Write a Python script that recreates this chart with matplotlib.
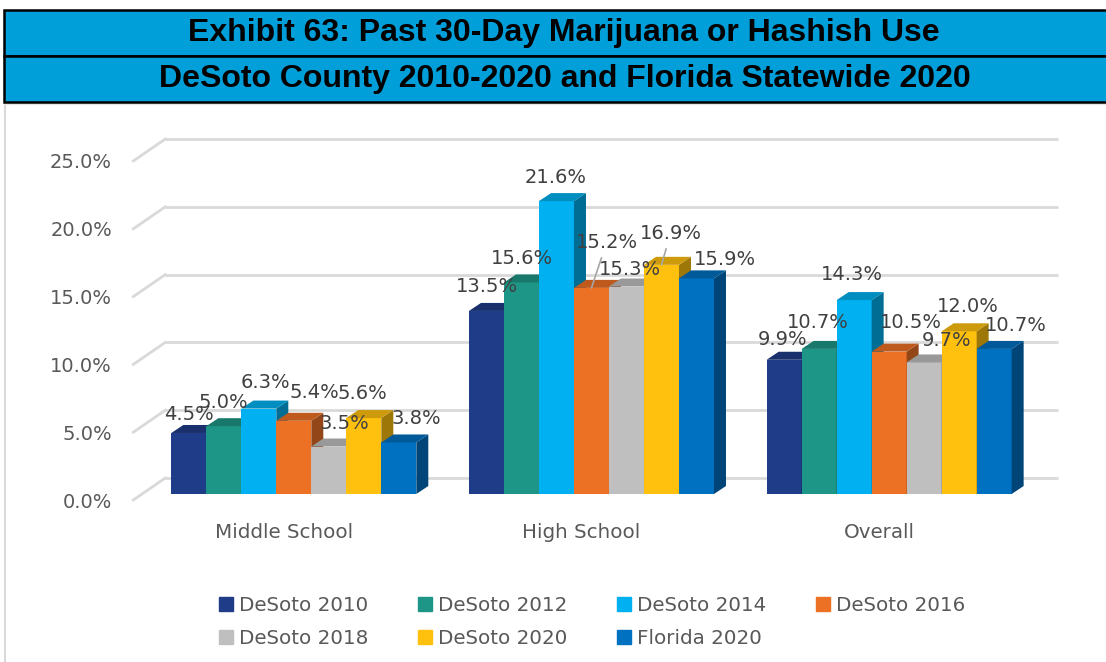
import numpy as np
import matplotlib
matplotlib.use("Agg")
import matplotlib.pyplot as plt
from matplotlib.patches import Polygon, Rectangle
from matplotlib.lines import Line2D
from matplotlib.colors import to_rgb

# data
categories = ["Middle School", "High School", "Overall"]
series = ["DeSoto 2010", "DeSoto 2012", "DeSoto 2014", "DeSoto 2016",
          "DeSoto 2018", "DeSoto 2020", "Florida 2020"]
values = {
    "DeSoto 2010": [4.5, 13.5, 9.9],
    "DeSoto 2012": [5.0, 15.6, 10.7],
    "DeSoto 2014": [6.3, 21.6, 14.3],
    "DeSoto 2016": [5.4, 15.2, 10.5],
    "DeSoto 2018": [3.5, 15.3, 9.7],
    "DeSoto 2020": [5.6, 16.9, 12.0],
    "Florida 2020": [3.8, 15.9, 10.7],
}
yticks = [0, 5, 10, 15, 20, 25]

colors = ["#1F3C88", "#1E9687", "#00B0F0", "#ED7125",
          "#BFBFBF", "#FFC00E", "#0070C0"]

# label nudges (pixels) to mimic Excel's placement, per series / category
label_nudge = [
    [(0, -6), (0, 0), (-2, -4)],
    [(0, 0), (0, 0), (-1, 2)],
    [(7, 2), (-1, 0), (-2, 2)],
    [(21, 4), (15, 21), (22, 5)],
    [(16, -1), (3, -7), (22, -2)],
    [(-1, 1), (9, 7), (9, 1)],
    [(18, 0), (28, -5), (22, -1)],
]
leaders = [(3, 1), (5, 1)]

W, H = 1106, 662
fig = plt.figure(figsize=(W / 100, H / 100), dpi=100)
fig.patch.set_facecolor("white")

# axes placed so that the bar-front plane maps onto the pixel layout
ax_l, ax_w = 142, 893
ax_b, ax_h = 168, 339
ax = fig.add_axes([ax_l / W, ax_b / H, ax_w / W, ax_h / H])
ax.set_xlim(-0.51, 2.49)
ax.set_ylim(0, 25)
ax.axis("off")

sx = ax_w / 3.0
sy = ax_h / 25.0
ux, uy = 12 / sx, 8 / sy          # bar depth
wx, wy = 23.3 / sx, 16 / sy       # back wall
fx, fy = -8.7 / sx, -6 / sy       # front plane

grid_c = "#D9D9D9"
x0, x1 = ax.get_xlim()
for v in yticks:
    ax.plot([x0 + wx, x1 + wx], [v + wy, v + wy], color=grid_c, lw=2,
            zorder=1, clip_on=False, solid_capstyle="butt")
    ax.plot([x0 + fx, x0 + wx], [v + fy, v + wy], color=grid_c, lw=2,
            zorder=1, clip_on=False)
    ax.annotate(f"{v:.1f}%", xy=(x0, v), xytext=(-30, -8),
                textcoords="offset pixels", ha="right", va="center",
                fontsize=14, color="#595959", annotation_clip=False)

n = len(series)
bw = 35 / sx
xc = np.arange(len(categories))


def shade(c, f):
    r, g, b = to_rgb(c)
    return (r * f, g * f, b * f)


for i, s in enumerate(series):
    vals = values[s]
    pos = xc + (i - (n - 1) / 2) * bw
    ax.bar(pos, vals, width=bw, color=colors[i], zorder=3, clip_on=False,
           linewidth=0)
    for p, v in zip(pos, vals):
        xl, xr = p - bw / 2, p + bw / 2
        side = Polygon([(xr, 0), (xr, v), (xr + ux, v + uy), (xr + ux, uy)],
                       closed=True, facecolor=shade(colors[i], 0.62),
                       edgecolor="none", zorder=3, clip_on=False)
        top = Polygon([(xl, v), (xr, v), (xr + ux, v + uy), (xl + ux, v + uy)],
                      closed=True, facecolor=shade(colors[i], 0.8),
                      edgecolor="none", zorder=3, clip_on=False)
        ax.add_patch(side)
        ax.add_patch(top)

# data labels
for i, s in enumerate(series):
    vals = values[s]
    pos = xc + (i - (n - 1) / 2) * bw
    for k, (p, v) in enumerate(zip(pos, vals)):
        dx, dy = label_nudge[i][k]
        kw = {}
        if (i, k) in leaders:
            kw["arrowprops"] = dict(arrowstyle="-", color="#A6A6A6", lw=1.2,
                                    shrinkA=2, shrinkB=0)
        ax.annotate(f"{v:.1f}%", xy=(p, v), xytext=(dx, 24 + dy),
                    textcoords="offset pixels", ha="center", va="center",
                    fontsize=14, color="#404040", zorder=10,
                    annotation_clip=False, **kw)

# category labels
for k, c in enumerate(categories):
    ax.annotate(c, xy=(xc[k], 0), xytext=(-10, -38), textcoords="offset pixels",
                ha="center", va="center", fontsize=14.3, color="#595959",
                annotation_clip=False)

# legend (rows: 2010 2012 2014 2016 / 2018 2020 Florida)
order = [0, 4, 1, 5, 2, 6, 3]
handles = [Line2D([], [], marker="s", linestyle="none", markersize=10,
                  markerfacecolor=colors[j], markeredgecolor=colors[j])
           for j in order]
fig.legend(handles, [series[j] for j in order], loc="center",
           bbox_to_anchor=(592 / W, 40 / H), ncol=4, frameon=False,
           fontsize=14.3, labelcolor="#595959", handlelength=0.7,
           handletextpad=0.3, columnspacing=2.5, labelspacing=0.7)

# title band
band_c = "#009FD9"
for top, bot in [(10.5, 55.5), (55.5, 101.5)]:
    fig.patches.append(Rectangle((4 / W, 1 - bot / H), (W + 10) / W,
                                 (bot - top) / H, transform=fig.transFigure,
                                 facecolor=band_c, edgecolor="black", lw=1.8,
                                 zorder=5))
fig.text(564 / W, 1 - 33 / H, "Exhibit 63: Past 30-Day Marijuana or Hashish Use",
         ha="center", va="center", fontsize=23, fontweight="bold",
         family="Liberation Sans", color="black", zorder=6)
fig.text(565 / W, 1 - 78.5 / H, "DeSoto County 2010-2020 and Florida Statewide 2020",
         ha="center", va="center", fontsize=23, fontweight="bold",
         family="Liberation Sans", color="black", zorder=6)

# chart frame edge
fig.add_artist(Line2D([5 / W, 5 / W], [0, 1 - 103 / H], color="#D9D9D9",
                      lw=1.5, transform=fig.transFigure))
fig.add_artist(Line2D([5 / W, 1], [1 - 103.5 / H, 1 - 103.5 / H],
                      color="#E6E6E6", lw=1.5, transform=fig.transFigure))

fig.savefig("out.png", dpi=100)
